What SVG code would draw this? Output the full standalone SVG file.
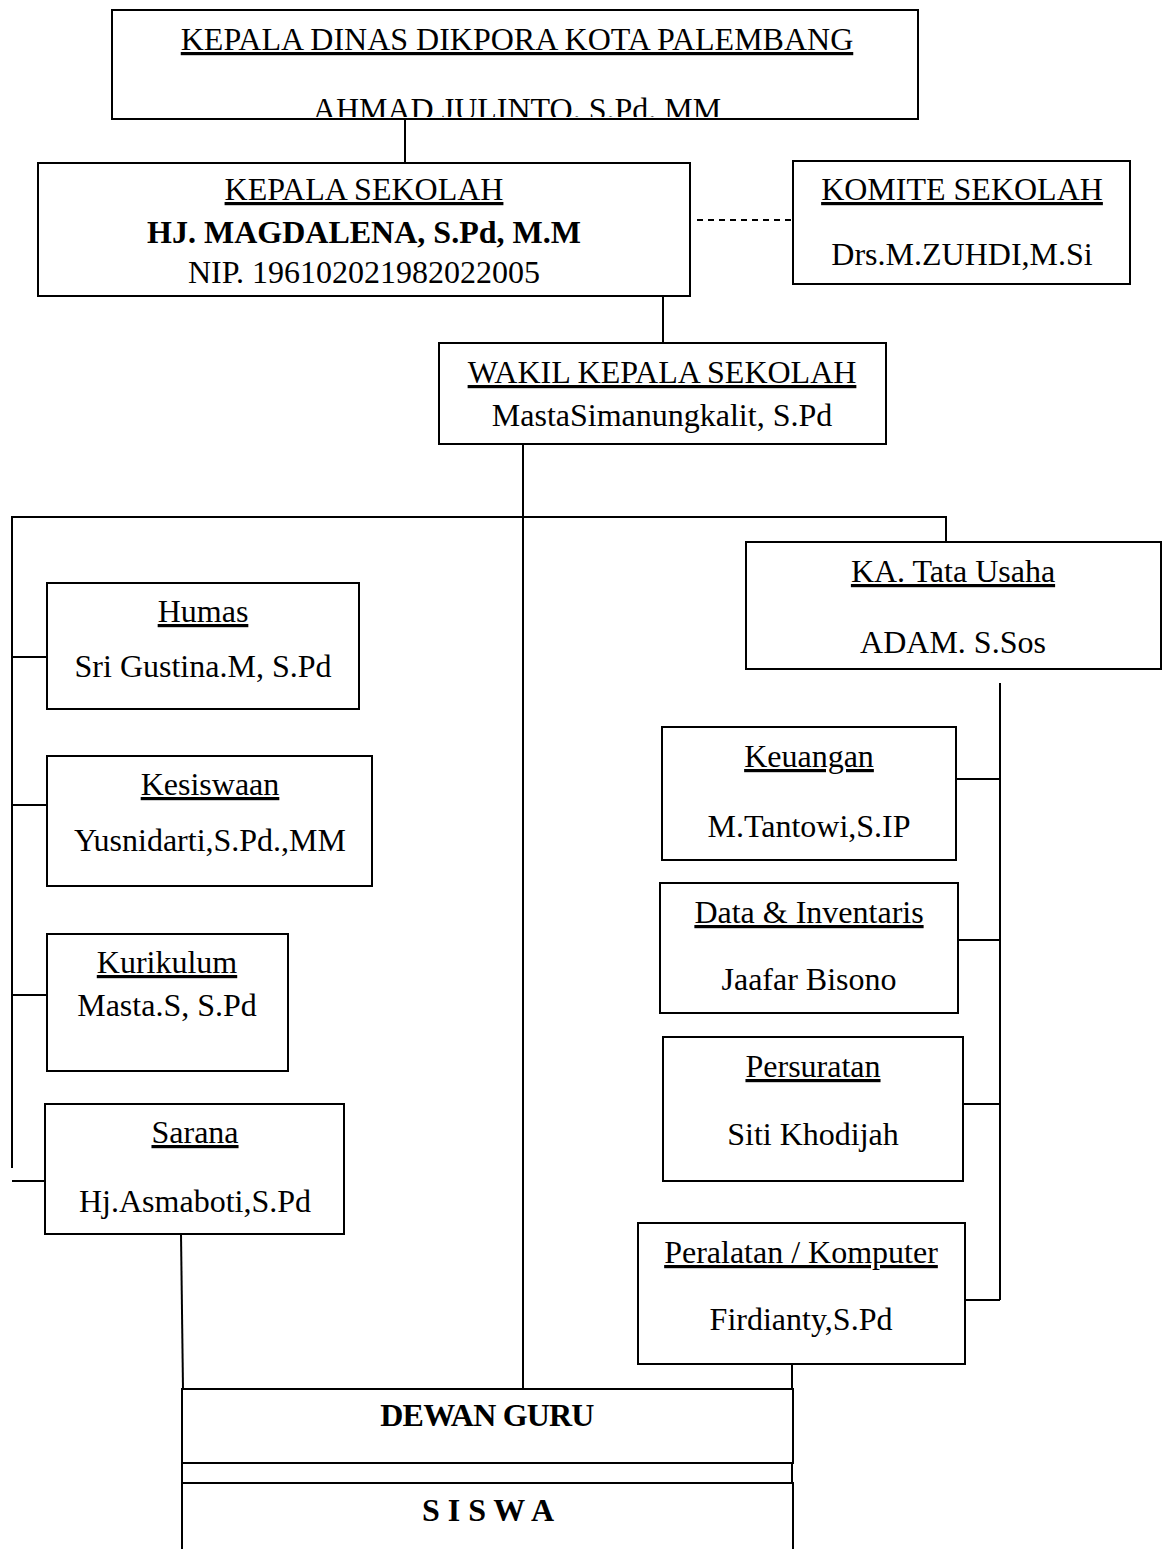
<svg xmlns="http://www.w3.org/2000/svg" width="1163" height="1549" viewBox="0 0 1163 1549">
<style>
.box{fill:#fff;stroke:#000;stroke-width:2}
.ln{stroke:#000;stroke-width:2;fill:none}
.t{font-family:"Liberation Serif","Times New Roman",serif;font-size:32px;fill:#000;text-anchor:middle}
.u{text-decoration:underline}
.b{font-weight:bold}
</style>
<defs>
<clipPath id="topclip"><rect x="112" y="10" width="806" height="107"/></clipPath>
</defs>
<rect width="1163" height="1549" fill="#fff"/>
<g id="connectors">
<line class="ln" x1="405" y1="119" x2="405" y2="163"/>
<line class="ln" x1="697" y1="220" x2="792" y2="220" stroke-dasharray="6,5"/>
<line class="ln" x1="663" y1="296" x2="663" y2="343"/>
<line class="ln" x1="523" y1="444" x2="523" y2="1389"/>
<polyline class="ln" points="12,1168 12,517 946,517 946,542"/>
<line class="ln" x1="12" y1="657" x2="47" y2="657"/>
<line class="ln" x1="12" y1="805" x2="47" y2="805"/>
<line class="ln" x1="12" y1="995" x2="47" y2="995"/>
<line class="ln" x1="12" y1="1181" x2="45" y2="1181"/>
<line class="ln" x1="181" y1="1234" x2="183" y2="1389"/>
<line class="ln" x1="1000" y1="683" x2="1000" y2="1300"/>
<line class="ln" x1="956" y1="779" x2="1000" y2="779"/>
<line class="ln" x1="955" y1="940" x2="1000" y2="940"/>
<line class="ln" x1="963" y1="1104" x2="1000" y2="1104"/>
<line class="ln" x1="965" y1="1300" x2="1000" y2="1300"/>
<line class="ln" x1="792" y1="1364" x2="792" y2="1389"/>
<line class="ln" x1="182" y1="1463" x2="182" y2="1483"/>
<line class="ln" x1="792" y1="1463" x2="792" y2="1483"/>
</g>
<g id="kepala-dinas">
<rect class="box" x="112" y="10" width="806" height="109"/>
<text class="t u" x="517" y="50">KEPALA DINAS DIKPORA KOTA PALEMBANG</text>
<text class="t" x="517" y="120" clip-path="url(#topclip)">AHMAD JULINTO. S.Pd. MM</text>
</g>
<g id="kepala-sekolah">
<rect class="box" x="38" y="163" width="652" height="133"/>
<text class="t u" x="364" y="200">KEPALA SEKOLAH</text>
<text class="t b" x="364" y="243">HJ. MAGDALENA, S.Pd, M.M</text>
<text class="t" x="364" y="283">NIP. 196102021982022005</text>
</g>
<g id="komite">
<rect class="box" x="793" y="161" width="337" height="123"/>
<text class="t u" x="962" y="200">KOMITE SEKOLAH</text>
<text class="t" x="962" y="265">Drs.M.ZUHDI,M.Si</text>
</g>
<g id="wakil">
<rect class="box" x="439" y="343" width="447" height="101"/>
<text class="t u" x="662" y="383">WAKIL KEPALA SEKOLAH</text>
<text class="t" x="662" y="426">MastaSimanungkalit, S.Pd</text>
</g>
<g id="humas">
<rect class="box" x="47" y="583" width="312" height="126"/>
<text class="t u" x="203" y="622">Humas</text>
<text class="t" x="203" y="677">Sri Gustina.M, S.Pd</text>
</g>
<g id="kesiswaan">
<rect class="box" x="47" y="756" width="325" height="130"/>
<text class="t u" x="210" y="795">Kesiswaan</text>
<text class="t" x="210" y="851">Yusnidarti,S.Pd.,MM</text>
</g>
<g id="kurikulum">
<rect class="box" x="47" y="934" width="241" height="137"/>
<text class="t u" x="167" y="973">Kurikulum</text>
<text class="t" x="167" y="1016">Masta.S, S.Pd</text>
</g>
<g id="sarana">
<rect class="box" x="45" y="1104" width="299" height="130"/>
<text class="t u" x="195" y="1143">Sarana</text>
<text class="t" x="195" y="1212">Hj.Asmaboti,S.Pd</text>
</g>
<g id="tata-usaha">
<rect class="box" x="746" y="542" width="415" height="127"/>
<text class="t u" x="953" y="582">KA. Tata Usaha</text>
<text class="t" x="953" y="653">ADAM. S.Sos</text>
</g>
<g id="keuangan">
<rect class="box" x="662" y="727" width="294" height="133"/>
<text class="t u" x="809" y="767">Keuangan</text>
<text class="t" x="809" y="837">M.Tantowi,S.IP</text>
</g>
<g id="data-inventaris">
<rect class="box" x="660" y="883" width="298" height="130"/>
<text class="t u" x="809" y="923">Data &amp; Inventaris</text>
<text class="t" x="809" y="990">Jaafar Bisono</text>
</g>
<g id="persuratan">
<rect class="box" x="663" y="1037" width="300" height="144"/>
<text class="t u" x="813" y="1077">Persuratan</text>
<text class="t" x="813" y="1145">Siti Khodijah</text>
</g>
<g id="peralatan">
<rect class="box" x="638" y="1223" width="327" height="141"/>
<text class="t u" x="801" y="1263">Peralatan / Komputer</text>
<text class="t" x="801" y="1330">Firdianty,S.Pd</text>
</g>
<g id="dewan-guru">
<rect class="box" x="182" y="1389" width="611" height="74"/>
<text class="t b" x="487" y="1426" font-size="24" letter-spacing="-0.8">DEWAN GURU</text>
</g>
<g id="siswa">
<rect class="box" x="182" y="1483" width="611" height="80"/>
<text class="t b" x="488" y="1521" font-size="23">S I S W A</text>
</g>
</svg>
